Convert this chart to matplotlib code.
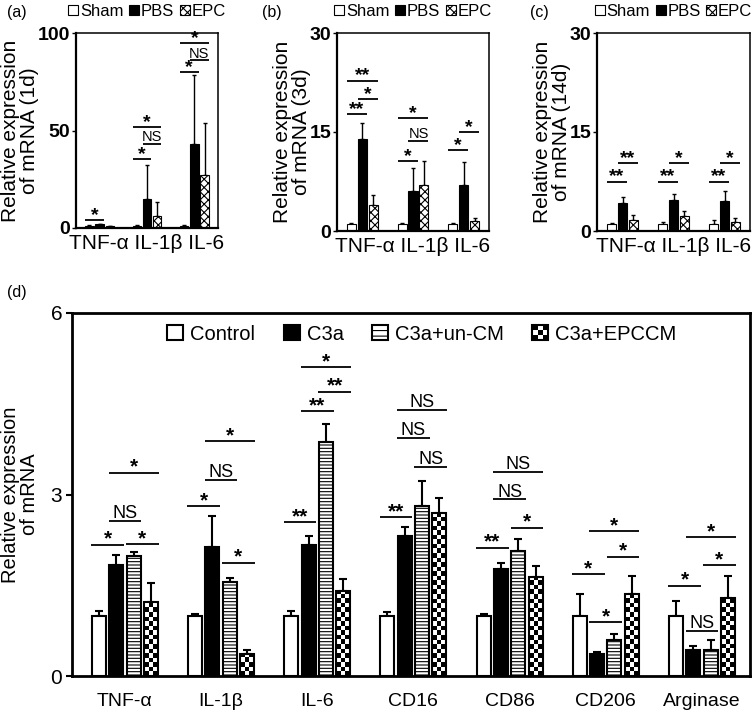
import matplotlib
matplotlib.use("Agg")
import matplotlib.pyplot as plt
from matplotlib.patches import Patch, Rectangle
from matplotlib.legend_handler import HandlerBase
import numpy as np

plt.rcParams["font.family"] = ["Liberation Sans", "DejaVu Sans"]
plt.rcParams["hatch.linewidth"] = 0.8

# ---- panels a-c : in vivo time course ----
genes_abc = ["TNF-α", "IL-1β", "IL-6"]
groups_abc = ["Sham", "PBS", "EPC"]

sham_1d = [1.0, 1.0, 1.0]
sham_1d_err = [0.3, 0.3, 0.5]
pbs_1d = [2.0, 15.0, 43.0]
pbs_1d_err = [0.3, 17.5, 35.5]
epc_1d = [1.0, 6.0, 27.0]
epc_1d_err = [0.2, 7.2, 27.0]
sig_1d = [(0, 0, 1, 4.0, "*"), (1, 0, 1, 35.5, "*"), (1, 1, 2, 43.0, "NS"),
          (1, 0, 2, 52.0, "*"), (2, 0, 1, 80.0, "*"), (2, 1, 2, 86.0, "NS"),
          (2, 0, 2, 95.0, "*")]

sham_3d = [1.0, 1.0, 1.0]
sham_3d_err = [0.2, 0.2, 0.2]
pbs_3d = [13.9, 6.0, 7.0]
pbs_3d_err = [2.5, 3.5, 3.5]
epc_3d = [4.0, 7.0, 1.5]
epc_3d_err = [1.4, 3.6, 0.4]
sig_3d = [(0, 0, 1, 17.7, "**"), (0, 1, 2, 20.0, "*"), (0, 0, 2, 22.8, "**"),
          (1, 0, 1, 10.6, "*"), (1, 1, 2, 13.6, "NS"), (1, 0, 2, 17.1, "*"),
          (2, 0, 1, 12.2, "*"), (2, 1, 2, 15.0, "*")]

sham_14d = [1.0, 1.0, 1.0]
sham_14d_err = [0.2, 0.3, 0.6]
pbs_14d = [4.3, 4.7, 4.6]
pbs_14d_err = [0.9, 0.9, 1.4]
epc_14d = [1.7, 2.3, 1.4]
epc_14d_err = [0.7, 0.7, 0.5]
sig_14d = [(0, 0, 1, 7.5, "**"), (0, 1, 2, 10.3, "**"), (1, 0, 1, 7.5, "**"),
           (1, 1, 2, 10.3, "*"), (2, 0, 1, 7.5, "**"), (2, 1, 2, 10.3, "*")]

# ---- panel d : in vitro macrophage markers ----
markers = ["TNF-α", "IL-1β", "IL-6", "CD16", "CD86", "CD206", "Arginase"]
groups_d = ["Control", "C3a", "C3a+un-CM", "C3a+EPCCM"]
control = [1.0, 1.0, 1.0, 1.0, 1.0, 1.0, 1.0]
control_err = [0.07, 0.02, 0.07, 0.05, 0.02, 0.36, 0.24]
c3a = [1.84, 2.14, 2.17, 2.32, 1.77, 0.37, 0.43]
c3a_err = [0.16, 0.50, 0.14, 0.14, 0.10, 0.02, 0.07]
uncm = [1.99, 1.56, 3.87, 2.81, 2.07, 0.60, 0.43]
uncm_err = [0.06, 0.06, 0.30, 0.41, 0.19, 0.09, 0.17]
epccm = [1.23, 0.37, 1.41, 2.70, 1.63, 1.36, 1.29]
epccm_err = [0.30, 0.06, 0.19, 0.25, 0.18, 0.29, 0.36]
sig_d = [(0, 0, 1, 2.17, "*"), (0, 2, 3, 2.18, "*"), (0, 1, 2, 2.57, "NS"), (0, 1, 3, 3.36, "*"),
         (1, 0, 1, 2.81, "*"), (1, 1, 2, 3.24, "NS"), (1, 1, 3, 3.88, "*"), (1, 2, 3, 1.87, "*"),
         (2, 0, 1, 2.54, "**"), (2, 1, 2, 4.38, "**"), (2, 2, 3, 4.70, "**"), (2, 1, 3, 5.10, "*"),
         (3, 0, 1, 2.62, "**"), (3, 2, 3, 3.46, "NS"), (3, 1, 2, 3.93, "NS"), (3, 1, 3, 4.40, "NS"),
         (4, 0, 1, 2.12, "**"), (4, 2, 3, 2.45, "*"), (4, 1, 2, 2.92, "NS"), (4, 1, 3, 3.38, "NS"),
         (5, 0, 1, 1.68, "*"), (5, 1, 2, 0.89, "*"), (5, 2, 3, 1.97, "*"), (5, 1, 3, 2.39, "*"),
         (6, 0, 1, 1.49, "*"), (6, 1, 2, 0.75, "NS"), (6, 2, 3, 1.83, "*"), (6, 1, 3, 2.29, "*")]

W, H = 755, 714
fig = plt.figure(figsize=(W / 100, H / 100), dpi=100)


def px_axes(x0, y0, x1, y1):
    return fig.add_axes([x0 / W, 1 - y1 / H, (x1 - x0) / W, (y1 - y0) / H])


def sig(ax, xa, xb, y, text, star_fs, ns_fs, lw):
    ax.plot([xa, xb], [y, y], color="k", lw=lw, solid_capstyle="butt", zorder=4)
    if text == "NS":
        ax.annotate(text, ((xa + xb) / 2, y), xytext=(0, 2), textcoords="offset points",
                    ha="center", va="baseline", fontsize=ns_fs)
    else:
        ax.annotate(text, ((xa + xb) / 2, y), xytext=(0, 0), textcoords="offset points",
                    ha="center", va="baseline", fontsize=star_fs, fontweight="bold")


def time_panel(ax, series, sigs, ymax, ylabel):
    x = np.arange(len(genes_abc))
    step, width = 0.215, 0.18
    styles = [dict(facecolor="white"), dict(facecolor="black"),
              dict(facecolor="white", hatch="xxxx")]
    for k, (vals, errs) in enumerate(series):
        xs = x + (k - 1) * step
        ax.bar(xs, vals, width, edgecolor="k", lw=0.8, zorder=2, **styles[k])
        ax.errorbar(xs, vals, yerr=[np.zeros(len(errs)), errs], fmt="none", ecolor="k",
                    elinewidth=1.0, capsize=1.2, capthick=1.0, zorder=1)
    for g, i, j, y, t in sigs:
        sig(ax, g + (i - 1) * step - 0.09, g + (j - 1) * step + 0.09, y, t, 14, 10.5, 1.3)
    ax.set_xlim(-0.5, 2.5)
    ax.set_ylim(0, ymax)
    ax.set_yticks([0, ymax / 2, ymax])
    ax.set_yticklabels([f"{v:g}" for v in [0, ymax / 2, ymax]], fontsize=14, fontweight="bold")
    ax.set_xticks([])
    ax.set_xlabel(" ".join(genes_abc), fontsize=15, labelpad=4)
    ax.set_ylabel(ylabel, fontsize=15, labelpad=-1, linespacing=1.0)
    for s in ["left", "bottom"]:
        ax.spines[s].set_linewidth(1.6)
    for s in ["top", "right"]:
        ax.spines[s].set_linewidth(1.1)
    ax.tick_params(axis="y", length=3, width=1, pad=1)
    handles = [Patch(edgecolor="k", lw=0.8, **st) for st in styles]
    ax.legend(handles, groups_abc, loc="center", bbox_to_anchor=(0.5, 1.11), ncol=3,
              frameon=False, fontsize=12, handlelength=0.6, handleheight=0.6,
              handletextpad=0.1, columnspacing=0.35, borderaxespad=0, borderpad=0)


ax_a = px_axes(76, 33, 218, 228)
time_panel(ax_a, [(sham_1d, sham_1d_err), (pbs_1d, pbs_1d_err), (epc_1d, epc_1d_err)],
           sig_1d, 100, "Relative expression\nof mRNA (1d)")
ax_b = px_axes(337, 33, 489, 231)
time_panel(ax_b, [(sham_3d, sham_3d_err), (pbs_3d, pbs_3d_err), (epc_3d, epc_3d_err)],
           sig_3d, 30, "Relative expression\nof mRNA (3d)")
ax_c = px_axes(597, 33, 750, 231)
time_panel(ax_c, [(sham_14d, sham_14d_err), (pbs_14d, pbs_14d_err), (epc_14d, epc_14d_err)],
           sig_14d, 30, "Relative expression\nof mRNA (14d)")

for lab, xp in [("(a)", 7), ("(b)", 262), ("(c)", 530)]:
    fig.text(xp / W, 1 - 13 / H, lab, fontsize=11.5, va="center", ha="left")


# ---- panel d ----
class CheckerHandler(HandlerBase):
    def create_artists(self, legend, orig_handle, xdescent, ydescent, width, height,
                       fontsize, trans):
        n = 3
        arts = [Rectangle((-xdescent, -ydescent), width, height, facecolor="white",
                          edgecolor="none", transform=trans)]
        for i in range(n):
            for j in range(n):
                if (i + j) % 2 == 0:
                    arts.append(Rectangle((-xdescent + j * width / n, -ydescent + i * height / n),
                                          width / n, height / n, facecolor="black",
                                          edgecolor="none", transform=trans))
        arts.append(Rectangle((-xdescent, -ydescent), width, height, facecolor="none",
                              edgecolor="black", lw=1.5, transform=trans))
        return arts


ax_d = px_axes(72, 313, 750, 676)
xd = np.arange(len(markers))
step_d, width_d = 0.18, 0.145
series_d = [(control, control_err), (c3a, c3a_err), (uncm, uncm_err), (epccm, epccm_err)]
styles_d = [dict(facecolor="white"), dict(facecolor="black"),
            dict(facecolor="white", hatch="-----"), dict(facecolor="none")]
for k, (vals, errs) in enumerate(series_d):
    xs = xd + (k - 1.5) * step_d
    bars = ax_d.bar(xs, vals, width_d, edgecolor="k", lw=1.5, zorder=3, **styles_d[k])
    ax_d.errorbar(xs, vals, yerr=[np.zeros(len(errs)), errs], fmt="none", ecolor="k",
                  elinewidth=1.5, capsize=3, capthick=1.5, zorder=1)
    if k == 3:
        cell = 0.075
        for rect in bars:
            nrows = int(np.ceil(rect.get_height() / cell))
            board = np.indices((nrows, 3)).sum(axis=0) % 2
            im = ax_d.imshow(board, cmap="gray", vmin=0, vmax=1, origin="lower",
                             extent=(rect.get_x(), rect.get_x() + rect.get_width(), 0, nrows * cell),
                             aspect="auto", interpolation="nearest", zorder=2)
            im.set_clip_path(rect)

for g, i, j, y, t in sig_d:
    sig(ax_d, g + (i - 1.5) * step_d - 0.08, g + (j - 1.5) * step_d + 0.08, y, t, 15, 13, 1.3)

ax_d.set_xlim(-0.55, 6.5)
ax_d.set_ylim(0, 6)
ax_d.set_yticks([0, 3, 6])
ax_d.set_yticklabels(["0", "3", "6"], fontsize=15)
ax_d.set_xticks(xd)
ax_d.set_xticklabels(markers, fontsize=14)
ax_d.tick_params(axis="x", length=0, pad=12)
ax_d.tick_params(axis="y", length=4, width=1.5, pad=3)
ax_d.set_ylabel("Relative expression\nof mRNA", fontsize=14.5, labelpad=8, linespacing=1.0)
for s in ax_d.spines.values():
    s.set_linewidth(2.0)

handles_d = [Patch(facecolor="white", edgecolor="k", lw=1.5),
             Patch(facecolor="black", edgecolor="k", lw=1.5),
             Patch(facecolor="white", edgecolor="k", lw=1.5, hatch="---"),
             Patch(facecolor="white", edgecolor="k")]
ax_d.legend(handles_d, groups_d, loc="center", bbox_to_anchor=((422 - 72) / 678, 1 - 21 / 363),
            ncol=4, frameon=False, fontsize=14.5, handlelength=0.8, handleheight=0.8,
            handletextpad=0.35, columnspacing=1.4, borderaxespad=0, borderpad=0,
            handler_map={handles_d[3]: CheckerHandler()})
fig.text(7 / W, 1 - 293 / H, "(d)", fontsize=11.5, va="center", ha="left")

fig.savefig("out.png", dpi=100)
